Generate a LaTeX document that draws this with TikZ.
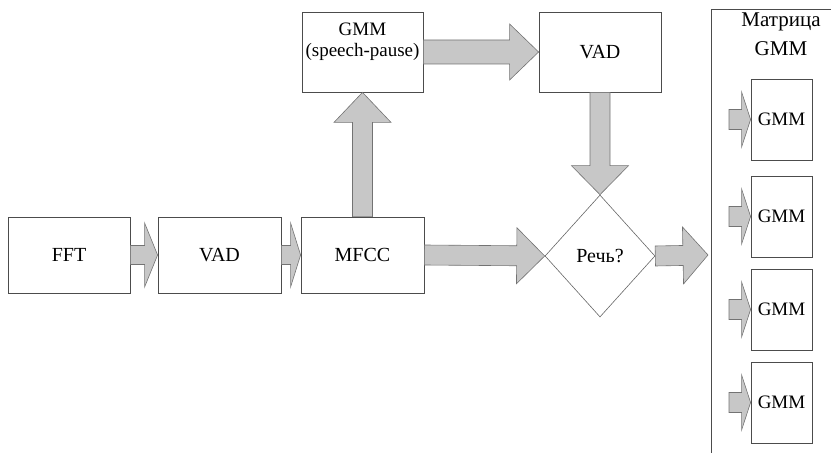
\documentclass[tikz,border=0pt]{standalone}
\usepackage{fontspec}
\setmainfont{Liberation Serif}
\newfontfamily\timesfont{Liberation Serif}
\usepackage{tikz}
\usetikzlibrary{calc}
\usetikzlibrary{shapes.geometric}
\tikzstyle{blockbox} = [draw=black!70, fill=white, line width=0.8pt,
rectangle, inner sep=0pt, font=\timesfont\fontsize{20}{24}\selectfont]
\tikzstyle{smallbox} = [blockbox, minimum width=61pt, minimum height=81pt,
font=\timesfont\fontsize{19}{22}\selectfont]
\tikzstyle{decision} = [draw=black!60, line width=0.6pt, diamond, inner sep=0pt,
minimum width=110pt, minimum height=122pt, font=\timesfont\fontsize{20}{24}\selectfont]
\tikzstyle{blockarrow} = [draw=black!55, fill=black!22, line width=0.6pt]
% block arrow: from, to, shaft half width, head half width, head length
\newcommand{\fatarrow}[5]{%
  \coordinate (hb) at ($(#2)!#5!(#1)$);
  \draw[blockarrow] ($(#1)!#3!90:(#2)$) -- ($(hb)!#3!90:(#2)$) -- ($(hb)!#4!90:(#2)$)
    -- (#2) -- ($(hb)!#4!-90:(#2)$) -- ($(hb)!#3!-90:(#2)$) -- ($(#1)!#3!-90:(#2)$) -- cycle;}

\begin{document}
\begin{tikzpicture}[x=1pt, y=-1pt]
        \useasboundingbox (0,0) rectangle (831,454);
        % main chain
        \node[blockbox, minimum width=122pt, minimum height=76pt] (fft) at (69,255) {FFT};
        \node[blockbox, minimum width=123pt, minimum height=76pt] (vad) at (219.5,255) {VAD};
        \node[blockbox, minimum width=123pt, minimum height=76pt] (mfcc) at (362.5,255) {MFCC};
        \node[blockbox, minimum width=121pt, minimum height=80pt] (gmm) at (362.5,52) {};
        \node[font=\timesfont\fontsize{19}{21}\selectfont, align=center] (gmmtext) at (362.5,42) {GMM\\(speech-pause)};
        \node[blockbox, minimum width=122pt, minimum height=80pt] (vadb) at (600,52) {VAD};
        \node[decision] (rech) at (600,256) {Речь?};
        \coordinate (out) at (708,255);
        \fatarrow{fft.east}{vad.west}{9.5pt}{32pt}{13pt}
        \fatarrow{vad.east}{mfcc.west}{9.5pt}{32pt}{10pt}
        \fatarrow{mfcc.north}{gmm.south}{10pt}{28.5pt}{30pt}
        \fatarrow{gmm.east}{vadb.west}{12pt}{28pt}{29pt}
        \fatarrow{vadb.south}{rech.north}{10pt}{28.5pt}{29pt}
        \fatarrow{mfcc.east}{rech.west}{10pt}{28pt}{28pt}
        \fatarrow{rech.east}{out}{10pt}{28.5pt}{25pt}
        % matrix of models
        \coordinate (mtop) at (711,9);
        \draw[draw=black!70, line width=0.8pt] (831,9) -- (mtop) -- (711,453);
        \node[font=\timesfont\fontsize{21}{29}\selectfont, align=center] (matrix) at (781,34) {Матрица\\GMM};
        \foreach \y [count=\i] in {119.5,216.5,309.5,402.5} {
            \node[smallbox] (g\i) at (781.5,\y) {GMM};
            \coordinate (s\i) at (729,\y);
            \fatarrow{s\i}{g\i.west}{10pt}{27.5pt}{9pt}
        }
    \end{tikzpicture}
\end{document}
